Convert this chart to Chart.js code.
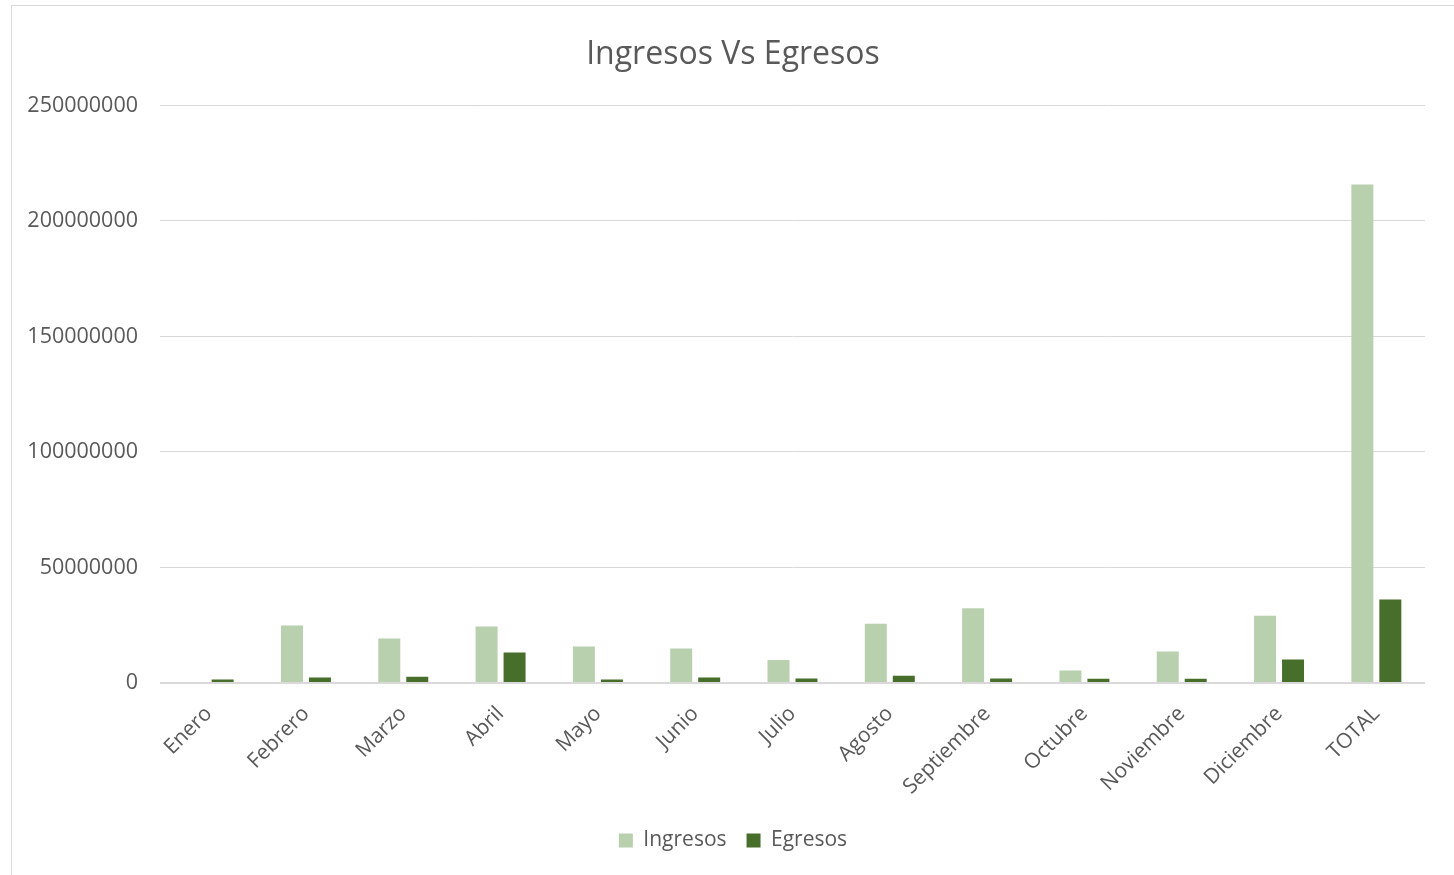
<!DOCTYPE html>
<html>
<head>
<meta charset="utf-8">
<script src="https://cdn.jsdelivr.net/npm/chart.js@4"></script>
<style>
  body { margin: 0; background: #fff; overflow: hidden; }
  #frame { position: absolute; left: 11px; top: 5px; width: 1460px; height: 880px; border: 1px solid #d9d9d9; }
  #wrap { position: absolute; left: 0; top: 0; width: 1454px; height: 875px; }
</style>
</head>
<body>
<div id="frame"></div>
<div id="wrap"><canvas id="ingresosChart"></canvas></div>
<script>
// Ingresos vs Egresos por mes
const meses = ['Enero', 'Febrero', 'Marzo', 'Abril', 'Mayo', 'Junio', 'Julio', 'Agosto',
    'Septiembre', 'Octubre', 'Noviembre', 'Diciembre', 'TOTAL'];
const ingresos = [0, 24900000, 19300000, 24500000, 15800000, 14900000, 10000000, 25600000,
    32300000, 5400000, 13600000, 29100000, 215800000];
const egresos = [1500000, 2400000, 2700000, 13200000, 1500000, 2400000, 1900000, 3100000,
    1900000, 1800000, 1800000, 10200000, 36100000];

const gris = '#595959';
const fuente = "'Open Sans', 'Noto Sans', sans-serif";

const ctx = document.getElementById('ingresosChart').getContext('2d');
new Chart(ctx, {
    type: 'bar',
    data: {
        labels: meses,
        datasets: [{
            label: 'Ingresos',
            data: ingresos,
            backgroundColor: '#b8d0ad'
        }, {
            label: 'Egresos',
            data: egresos,
            backgroundColor: '#476f2b'
        }]
    },
    options: {
        responsive: true,
        maintainAspectRatio: false,
        animation: false,
        datasets: {
            bar: { categoryPercentage: 0.575, barPercentage: 0.786 }
        },
        layout: { padding: { left: 12, right: 0, top: 0, bottom: 14 } },
        plugins: {
            title: {
                display: true,
                text: 'Ingresos Vs Egresos',
                color: gris,
                font: { family: fuente, size: 32, weight: 'normal' },
                padding: { top: 36, bottom: 31 }
            },
            legend: {
                position: 'bottom',
                labels: {
                    color: gris,
                    boxWidth: 14,
                    boxHeight: 14,
                    padding: 20,
                    font: { family: fuente, size: 21 }
                }
            },
            tooltip: { enabled: false }
        },
        scales: {
            x: {
                grid: { display: false },
                border: { display: false },
                ticks: {
                    color: gris,
                    maxRotation: 45,
                    minRotation: 45,
                    padding: 10.5,
                    font: { family: fuente, size: 21 }
                }
            },
            y: {
                min: 0,
                max: 250000000,
                afterFit: (scale) => { scale.width = 148; },
                border: { display: false },
                grid: {
                    color: '#d9d9d9',
                    drawTicks: false,
                    lineWidth: (c) => (c.tick && c.tick.value === 0 ? 2 : 1)
                },
                ticks: {
                    stepSize: 50000000,
                    color: gris,
                    padding: 22,
                    font: { family: fuente, size: 21.5 },
                    callback: (v) => String(v)
                }
            },
            // empty right margin so title and legend stay centred on the frame
            margen: {
                position: 'right',
                afterFit: (scale) => { scale.width = 29; },
                border: { display: false },
                grid: { display: false },
                ticks: { display: false }
            }
        }
    }
});
</script>
</body>
</html>
